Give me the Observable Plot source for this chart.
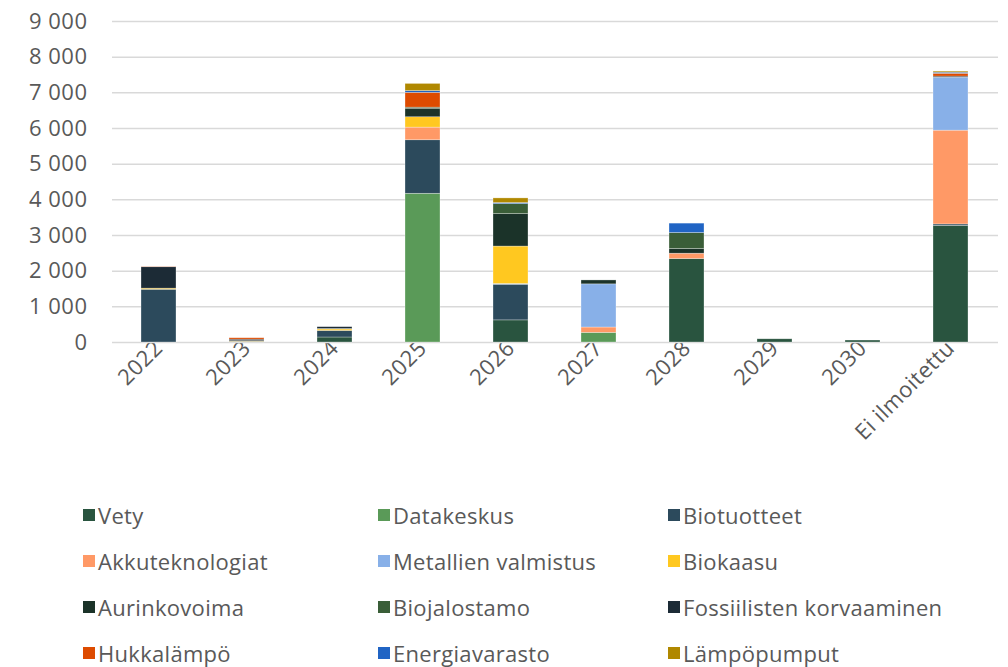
<!DOCTYPE html>
<html>
<head>
<meta charset="utf-8">
<script src="https://cdn.jsdelivr.net/npm/d3@7"></script>
<script src="https://cdn.jsdelivr.net/npm/@observablehq/plot@0.6"></script>
<style>
  body { margin: 0; background: #fff; font-family: "Open Sans", Roboto, sans-serif; }
  #chart svg { display: block; }
  .legend { display: grid; grid-template-columns: 295px 290px 300px; margin-left: 83px; margin-top: 12px; }
  .legend .item { display: flex; align-items: center; height: 46px; font-size: 22px; color: #595959; letter-spacing: 0.3px; }
  .legend .sw { width: 12px; height: 12px; margin-right: 3px; flex: none; }
</style>
</head>
<body>
<div id="chart"></div>
<div class="legend" id="legend"></div>
<script>
const categories = ["2022", "2023", "2024", "2025", "2026", "2027", "2028", "2029", "2030", "Ei ilmoitettu"];
const seriesNames = ["Vety", "Datakeskus", "Biotuotteet", "Akkuteknologiat", "Metallien valmistus", "Biokaasu", "Aurinkovoima", "Biojalostamo", "Fossiilisten korvaaminen", "Hukkalämpö", "Energiavarasto", "Lämpöpumput"];
const seriesColors = ["#29543f", "#5a9a58", "#2c4a5c", "#ff9966", "#88b0e8", "#ffc820", "#1b3329", "#3a5e38", "#1c2b36", "#dd4b00", "#2064c4", "#b08800"];

// values per series, ordered as categories
const vety            = [0,    0,   140, 0,    620,  0,    2340, 90, 55, 3270];
const datakeskus      = [0,    0,   0,   4170, 0,    270,  0,    0,  0,  0];
const biotuotteet     = [1480, 20,  185, 1500, 1000, 0,    0,    0,  0,  40];
const akkuteknologiat = [0,    0,   0,   355,  0,    150,  150,  0,  0,  2630];
const metallien       = [0,    0,   0,   0,    20,   1210, 0,    0,  0,  1485];
const biokaasu        = [30,   15,  40,  290,  1050, 0,    0,    0,  0,  0];
const aurinkovoima    = [0,    0,   0,   240,  910,  110,  130,  0,  0,  0];
const biojalostamo    = [0,    0,   15,  30,   280,  0,    450,  0,  0,  0];
const fossiilisten    = [600,  45,  50,  0,    0,    0,    0,    0,  0,  30];
const hukkalampo      = [10,   40,  0,   415,  0,    0,    0,    0,  0,  80];
const energiavarasto  = [0,    0,   0,   50,   30,   0,    263,  0,  0,  30];
const lampopumput     = [0,    0,   0,   200,  130,  0,    0,    0,  0,  30];

const yTicks = [0, 1000, 2000, 3000, 4000, 5000, 6000, 7000, 8000, 9000];

const seriesValues = [vety, datakeskus, biotuotteet, akkuteknologiat, metallien, biokaasu, aurinkovoima, biojalostamo, fossiilisten, hukkalampo, energiavarasto, lampopumput];

const rows = [];
seriesNames.forEach((s, i) => {
  categories.forEach((c, j) => {
    rows.push({category: c, series: s, value: seriesValues[i][j]});
  });
});

const fmt = d => d3.format(",")(d).replace(/,/g, " ");

const chart = Plot.plot({
  width: 1008,
  height: 480,
  marginTop: 21,
  marginBottom: 138,
  marginLeft: 112,
  marginRight: 10,
  style: {fontFamily: "'Open Sans', Roboto, sans-serif", fontSize: "22px", color: "#595959", background: "#fff", letterSpacing: "0.5px"},
  x: {domain: categories, paddingInner: 0.6, paddingOuter: 0.3, label: null, tickSize: 0, tickRotate: -45, tickPadding: 2},
  y: {domain: [0, 9000], label: null, ticks: yTicks, tickFormat: fmt, tickSize: 0, tickPadding: 25},
  color: {domain: seriesNames, range: seriesColors},
  marks: [
    Plot.ruleY(yTicks, {stroke: "#d9d9d9", strokeWidth: 1.5}),
    Plot.barY(rows, {x: "category", y: "value", fill: "series", order: seriesNames, stroke: "#ffffff", strokeWidth: 0.6, strokeOpacity: 0.5}),
  ]
});
document.getElementById("chart").appendChild(chart);

const legend = document.getElementById("legend");
seriesNames.forEach((s, i) => {
  const item = document.createElement("div");
  item.className = "item";
  const sw = document.createElement("span");
  sw.className = "sw";
  sw.style.background = seriesColors[i];
  item.appendChild(sw);
  item.appendChild(document.createTextNode(s));
  legend.appendChild(item);
});
</script>
</body>
</html>
